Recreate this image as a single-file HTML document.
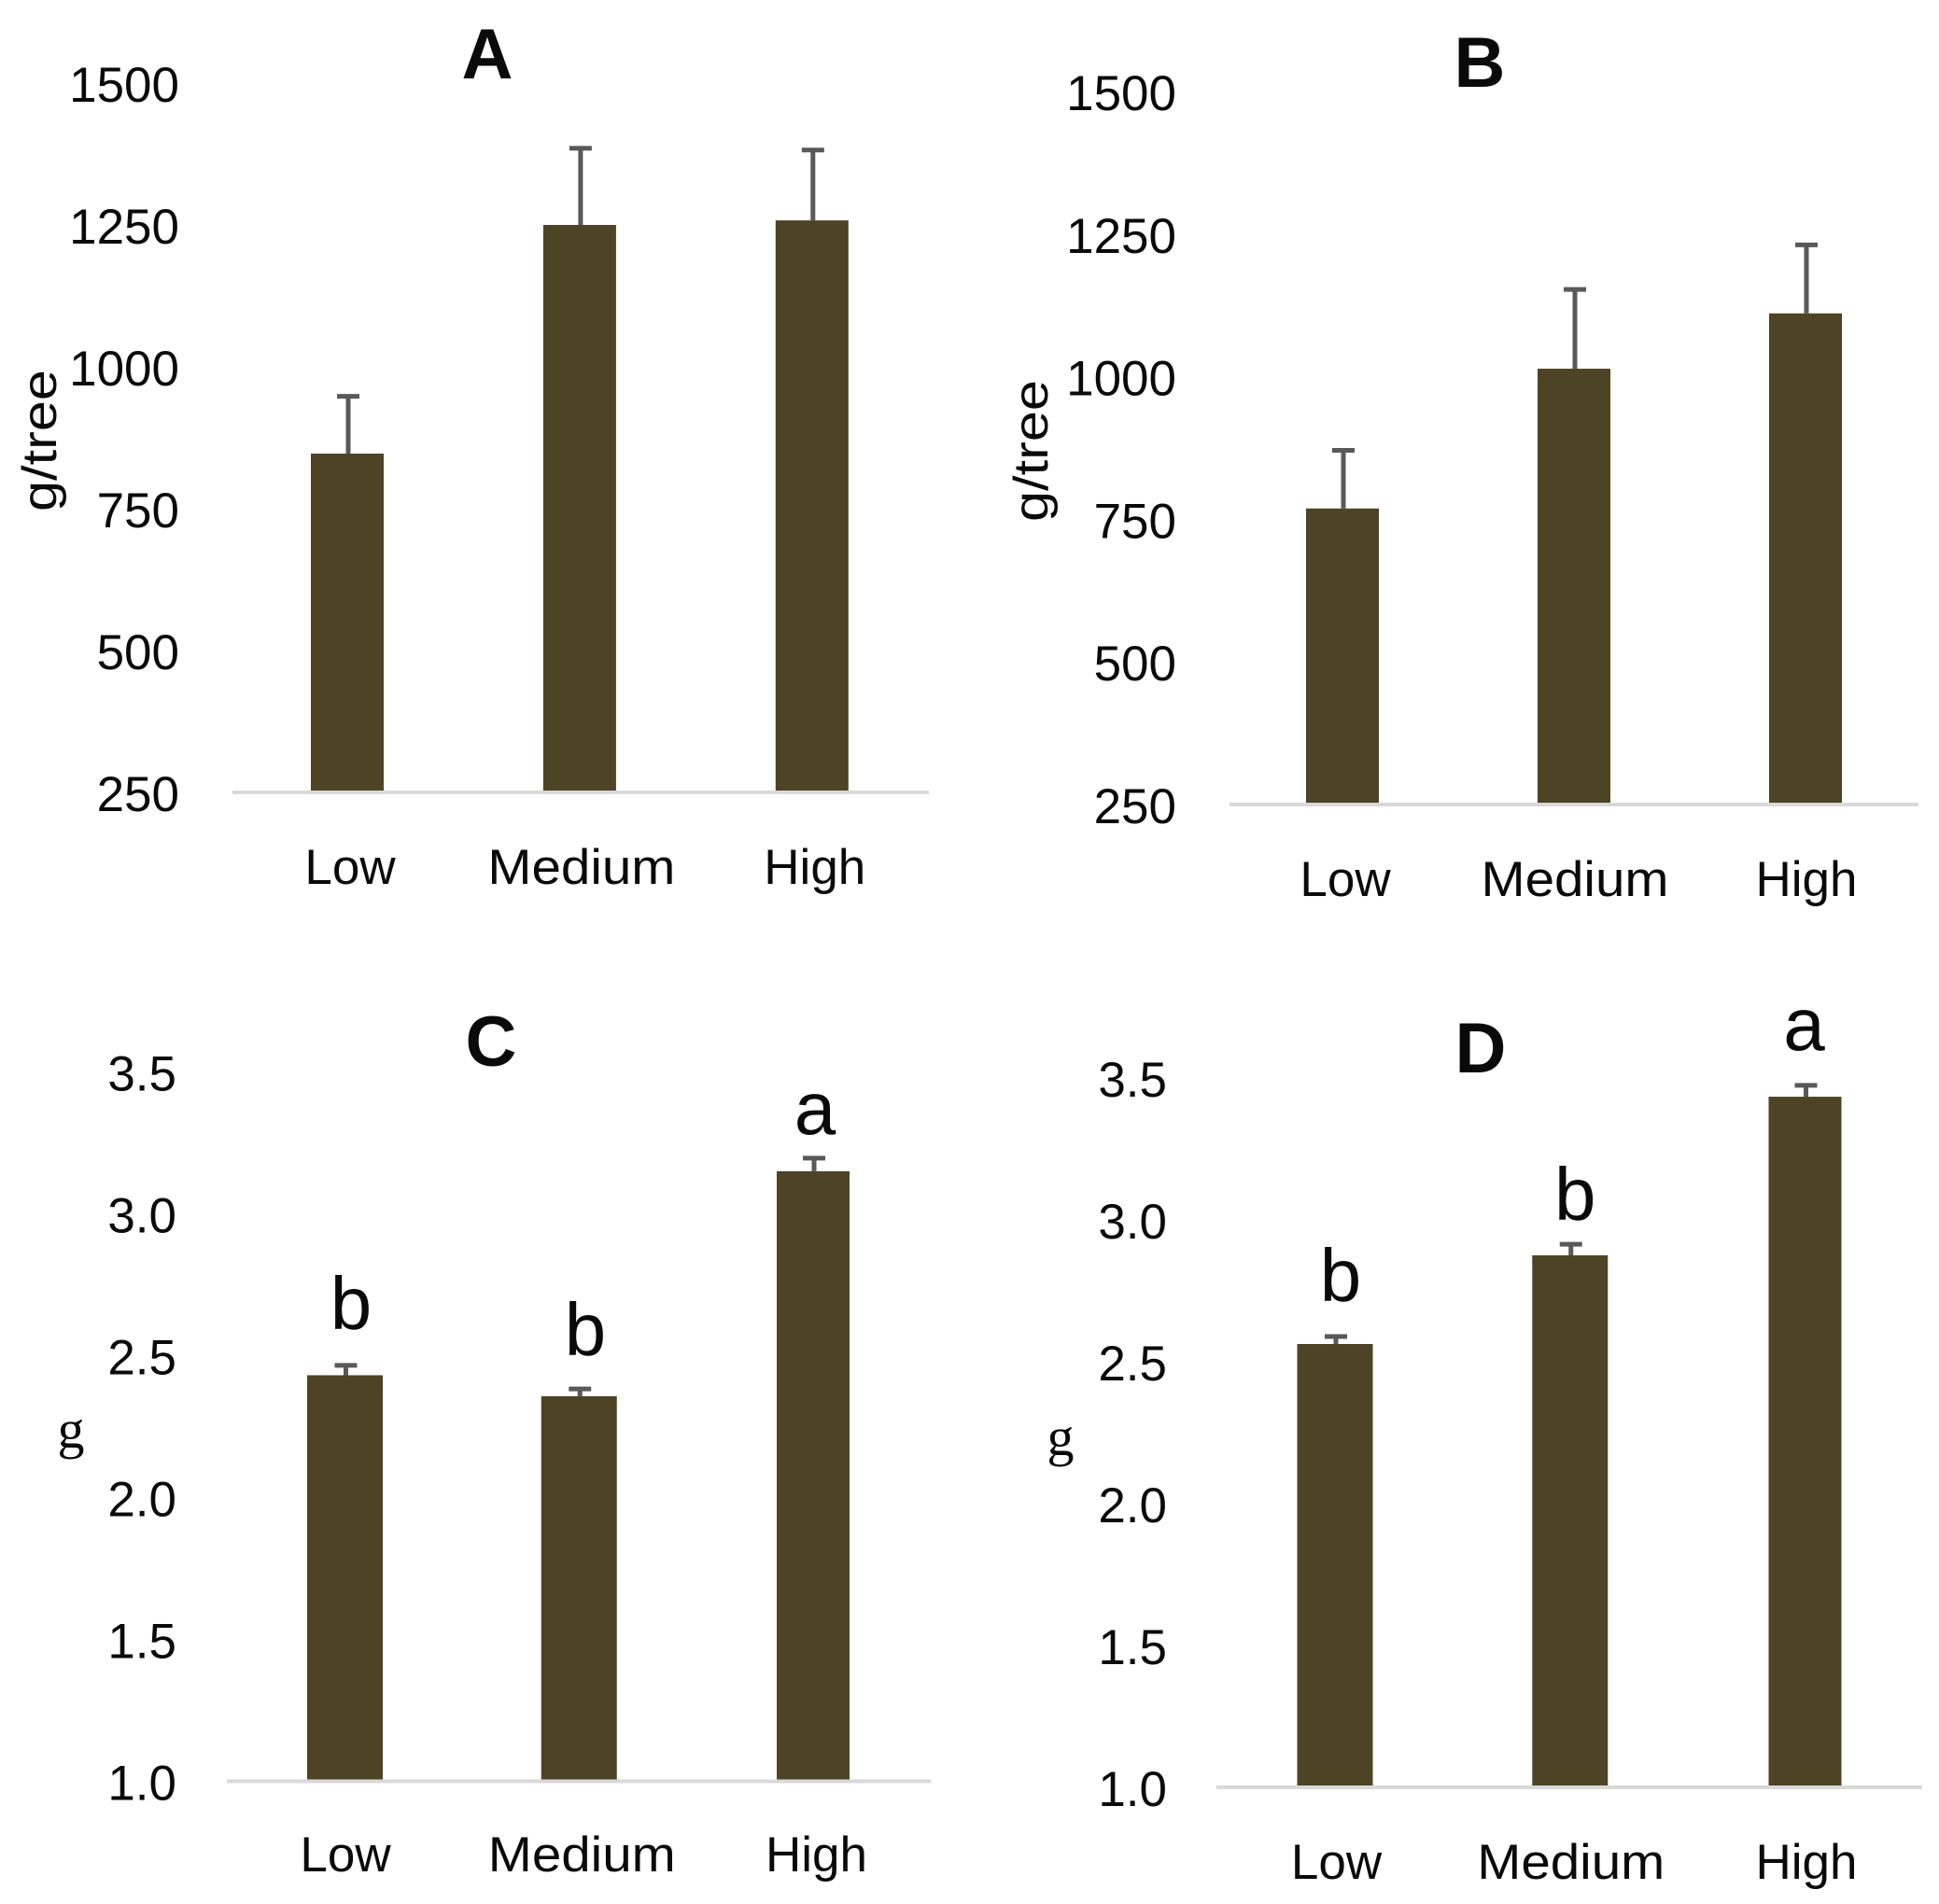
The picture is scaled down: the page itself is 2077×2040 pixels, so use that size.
<!DOCTYPE html>
<html lang="en">
<head>
<meta charset="utf-8">
<title>Bar chart panels A–D</title>
<style>
html,body{margin:0;padding:0;background:#fff;width:2077px;height:2040px;overflow:hidden}
svg{display:block}
text{font-family:"Liberation Sans",sans-serif;fill:#0a0a0a}
</style>
</head>
<body>
<svg id="figure" xmlns="http://www.w3.org/2000/svg" width="2077" height="2040" viewBox="0 0 2077 2040"></svg>
<script>
const categories = ['Low', 'Medium', 'High'];
const ticksAB = ['250', '500', '750', '1000', '1250', '1500'];
const ticksCD = ['1.0', '1.5', '2.0', '2.5', '3.0', '3.5'];

const valuesA = [847, 1250, 1258];
const errorTopsA = [948, 1385, 1382];
const valuesB = [769, 1014, 1111];
const errorTopsB = [871, 1153, 1231];
const valuesC = [2.431, 2.357, 3.15];
const errorTopsC = [2.466, 2.383, 3.196];
const valuesD = [2.5625, 2.875, 3.434];
const errorTopsD = [2.589, 2.914, 3.474];

const lettersC = ['b', 'b', 'a'];
const lettersD = ['b', 'b', 'a'];

const panels = [
  { id: 'a', title: 'A', yTitle: 'g/tree', values: valuesA, tops: errorTopsA, ticks: ticksAB, letters: null,
    min: 250, max: 1500, axisY: 849, topY: 89, axisL: 249, axisR: 995, cx0: 372, step: 248.9, bw: [78, 78, 78],
    tickR: 192, titleX: 522, titleY: 84, yTitleX: 60, yTitleY: 472, xLabelY: 947, xShift: [3, 2, 3] },
  { id: 'b', title: 'B', yTitle: 'g/tree', values: valuesB, tops: errorTopsB, ticks: ticksAB, letters: null,
    min: 250, max: 1500, axisY: 862, topY: 98, axisL: 1317, axisR: 2055, cx0: 1438, step: 248, bw: [78, 78, 78],
    tickR: 1260, titleX: 1585, titleY: 93, yTitleX: 1122, yTitleY: 483, xLabelY: 960, xShift: [3, 1, 1] },
  { id: 'c', title: 'C', yTitle: 'g', values: valuesC, tops: errorTopsC, ticks: ticksCD, letters: lettersC,
    letterGaps: [39, 36, 26], letterShift: [6.5, 6.8, 2],
    min: 1, max: 3.5, axisY: 1908.5, topY: 1148.5, axisL: 243, axisR: 997, cx0: 369.5, step: 250.75, bw: [81, 81, 78],
    tickR: 189, titleX: 526, titleY: 1142, yTitleX: 76, yTitleY: 1551, xLabelY: 2005, xShift: [0.5, 3, 3.5] },
  { id: 'd', title: 'D', yTitle: 'g', values: valuesD, tops: errorTopsD, ticks: ticksCD, letters: lettersD,
    letterGaps: [38, 26, 38], letterShift: [6, 5.5, -1],
    min: 1, max: 3.5, axisY: 1915, topY: 1155, axisL: 1303, axisR: 2059, cx0: 1430, step: 251.75, bw: [81, 81, 78],
    tickR: 1250, titleX: 1586, titleY: 1149, yTitleX: 1136, yTitleY: 1559, xLabelY: 2013, xShift: [1.5, 1, 1.5] }
];

const svg = document.getElementById('figure');
const NS = 'http://www.w3.org/2000/svg';

function make(tag, attrs, parent) {
  const el = document.createElementNS(NS, tag);
  for (const k in attrs) el.setAttribute(k, attrs[k]);
  parent.appendChild(el);
  return el;
}

function drawPanel(p) {
  const yScale = v => p.axisY - (v - p.min) * (p.axisY - p.topY) / (p.max - p.min);
  const xScale = i => p.cx0 + p.step * i;

  const group = make('g', {}, svg);
  
  

  const title = make('text', { x: p.titleX, y: p.titleY, 'font-size': 76, 'font-weight': 700, 'text-anchor': 'middle' }, group);
  
  
  title.textContent = p.title;

  let yTitle;
  if (p.yTitle === 'g') {
    yTitle = make('text', { x: p.yTitleX, y: p.yTitleY, 'font-size': 58, 'text-anchor': 'middle', style: 'font-family:"Liberation Serif",serif' }, group);
  } else {
    yTitle = make('text', { x: 0, y: 0, 'font-size': 52, 'text-anchor': 'middle', textLength: 152, lengthAdjust: 'spacingAndGlyphs', transform: 'translate(' + p.yTitleX + ' ' + p.yTitleY + ') rotate(-90)' }, group);
  }
  
  
  yTitle.textContent = p.yTitle;

  p.ticks.forEach(label => {
    const t = make('text', { x: p.tickR, y: yScale(parseFloat(label)) + 20, 'font-size': 53, 'text-anchor': 'end' }, group);
    
    
    t.textContent = label;
  });

  categories.forEach((cat, i) => {
    const cx = xScale(i);
    const w = p.bw[i];

    const bar = make('rect', { x: cx - w / 2, y: yScale(p.values[i]), width: w, height: p.axisY - yScale(p.values[i]), fill: '#4d4325' }, group);
    
    

    const stem = make('line', { x1: cx + 1, x2: cx + 1, y1: yScale(p.values[i]), y2: yScale(p.tops[i]), stroke: '#595959', 'stroke-width': 5 }, group);
    
    

    const cap = make('line', { x1: cx - 11, x2: cx + 13, y1: yScale(p.tops[i]), y2: yScale(p.tops[i]), stroke: '#595959', 'stroke-width': 5 }, group);
    
    

    const xAttrs = { x: cx + p.xShift[i], y: p.xLabelY, 'font-size': 53, 'text-anchor': 'middle' };
    if (cat === 'Medium') {
      xAttrs.textLength = 201;
      xAttrs.lengthAdjust = 'spacingAndGlyphs';
    }
    const xl = make('text', xAttrs, group);
    
    
    xl.textContent = cat;

    if (p.letters) {
      const s = make('text', { x: cx + p.letterShift[i], y: yScale(p.tops[i]) - p.letterGaps[i], 'font-size': 80, 'text-anchor': 'middle' }, group);
      
      
      s.textContent = p.letters[i];
    }
  });

  const axis = make('line', { x1: p.axisL, x2: p.axisR, y1: p.axisY, y2: p.axisY, stroke: '#d9d9d9', 'stroke-width': 4 }, group);
  
  
}

panels.forEach(drawPanel);
</script>
</body>
</html>
